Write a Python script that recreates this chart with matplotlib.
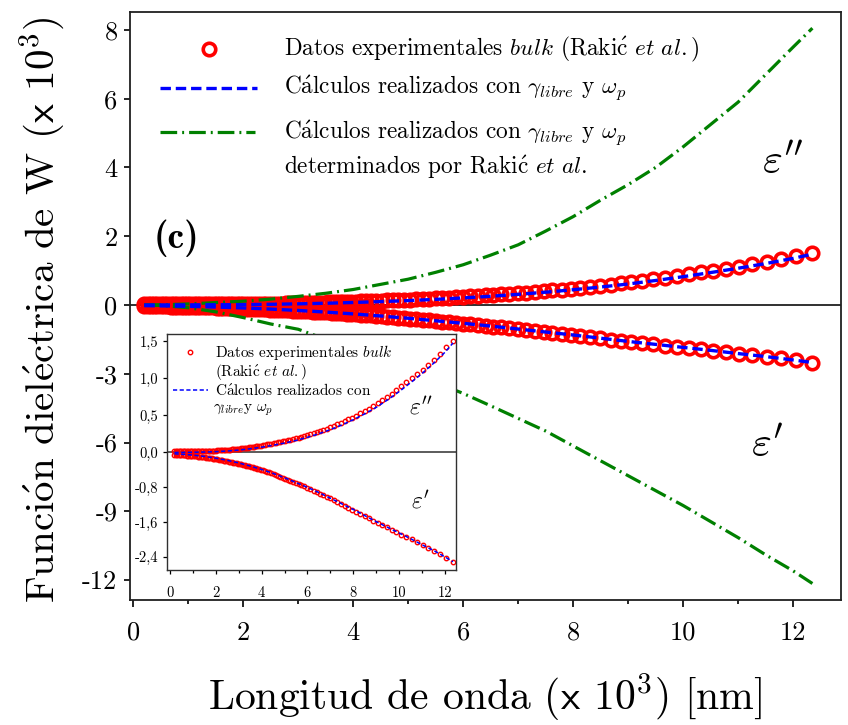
import numpy as np
import matplotlib
matplotlib.use("Agg")
import matplotlib.pyplot as plt
from matplotlib.lines import Line2D
from matplotlib.ticker import FixedLocator, FixedFormatter, NullLocator

plt.rcParams.update({
    "font.family": "cmr10",
    "mathtext.fontset": "cm",
    "axes.unicode_minus": False,
    "axes.formatter.use_mathtext": True,
    "lines.scale_dashes": False,
})

# ---------------------------------------------------------------------------
# Experimental bulk data (wavelength in 10^3 nm, epsilon in 10^3)
# ---------------------------------------------------------------------------
exp_wl = [
    0.20, 0.26, 0.32, 0.38, 0.44, 0.50, 0.56, 0.62, 0.68, 0.74, 0.80, 0.86,
    0.92, 0.98, 1.04, 1.10, 1.16, 1.22, 1.28, 1.34, 1.40, 1.46, 1.52, 1.58,
    1.64, 1.70, 1.76, 1.82, 1.88, 1.94, 2.00,
    2.07, 2.14, 2.21, 2.28, 2.35, 2.42, 2.49, 2.56, 2.63, 2.70, 2.77, 2.84,
    2.91, 2.98, 3.05, 3.12, 3.19, 3.26, 3.33, 3.40, 3.47, 3.54, 3.61, 3.68,
    3.75, 3.82, 3.89, 3.96,
    4.05, 4.14, 4.23, 4.32, 4.42, 4.52, 4.62, 4.72, 4.82, 4.93, 5.04, 5.15,
    5.26, 5.38, 5.50, 5.62, 5.74, 5.87, 6.00, 6.13, 6.27, 6.41, 6.55, 6.69,
    6.84, 6.99, 7.14, 7.30, 7.46, 7.62, 7.79, 7.96, 8.13, 8.31, 8.49, 8.68,
    8.87, 9.06, 9.26, 9.46, 9.67, 9.88, 10.10, 10.32, 10.55, 10.78, 11.02,
    11.26, 11.52, 11.78, 12.06, 12.35,
]
exp_eps2 = [
    0.020, 0.020, 0.020, 0.020, 0.020, 0.020, 0.020, 0.020, 0.020, 0.020,
    0.020, 0.020, 0.020, 0.020, 0.020, 0.021, 0.021, 0.021, 0.022, 0.022,
    0.022, 0.023, 0.023, 0.023, 0.024, 0.024, 0.024, 0.025, 0.025, 0.025,
    0.026,
    0.027, 0.028, 0.029, 0.030, 0.032, 0.034, 0.036, 0.038, 0.040, 0.042,
    0.044, 0.046, 0.048, 0.050, 0.052, 0.055, 0.058, 0.060, 0.063, 0.066,
    0.069, 0.072, 0.075, 0.079, 0.082, 0.086, 0.089, 0.093,
    0.098, 0.103, 0.109, 0.114, 0.120, 0.126, 0.132, 0.138, 0.144, 0.151,
    0.158, 0.166, 0.173, 0.182, 0.190, 0.201, 0.212, 0.223, 0.235, 0.248,
    0.262, 0.276, 0.290, 0.306, 0.322, 0.339, 0.358, 0.379, 0.400, 0.422,
    0.446, 0.469, 0.497, 0.528, 0.558, 0.592, 0.627, 0.663, 0.707, 0.751,
    0.797, 0.844, 0.894, 0.947, 1.002, 1.057, 1.116, 1.183, 1.256, 1.334,
    1.419, 1.510,
]
exp_eps1 = [
    -0.050, -0.052, -0.054, -0.056, -0.058, -0.060, -0.062, -0.065, -0.067,
    -0.070, -0.072, -0.074, -0.077, -0.079, -0.082, -0.086, -0.090, -0.093,
    -0.097, -0.100, -0.104, -0.108, -0.112, -0.116, -0.121, -0.126, -0.131,
    -0.136, -0.140, -0.145, -0.150,
    -0.157, -0.164, -0.171, -0.178, -0.185, -0.192, -0.199, -0.207, -0.216,
    -0.224, -0.232, -0.241, -0.249, -0.258, -0.266, -0.274, -0.283, -0.291,
    -0.300, -0.308, -0.316, -0.326, -0.338, -0.349, -0.360, -0.371, -0.382,
    -0.394,
    -0.409, -0.425, -0.441, -0.458, -0.476, -0.494, -0.514, -0.534, -0.554,
    -0.576, -0.599, -0.623, -0.647, -0.674, -0.700, -0.726, -0.753, -0.781,
    -0.810, -0.841, -0.875, -0.908, -0.943, -0.979, -1.018, -1.057, -1.096,
    -1.138, -1.180, -1.221, -1.265, -1.310, -1.356, -1.407, -1.457, -1.510,
    -1.564, -1.616, -1.668, -1.720, -1.774, -1.829, -1.886, -1.937, -1.994,
    -2.058, -2.125, -2.188, -2.256, -2.328, -2.418, -2.520,
]

# ---------------------------------------------------------------------------
# Calculated curves
# ---------------------------------------------------------------------------
model_wl = [0.2, 0.5, 1.0, 1.5, 2.0, 2.5, 3.0, 3.5, 4.0, 4.5, 5.0, 5.5, 6.0,
            6.5, 7.0, 7.5, 8.0, 8.5, 9.0, 9.5, 10.0, 10.5, 11.0, 11.5, 12.0,
            12.35]
# gamma_libre and omega_p fitted here
fit_eps2 = [0.000, 0.001, 0.003, 0.006, 0.011, 0.020, 0.033, 0.050, 0.072,
            0.098, 0.128, 0.163, 0.205, 0.254, 0.309, 0.372, 0.443, 0.522,
            0.610, 0.712, 0.823, 0.943, 1.068, 1.205, 1.355, 1.480]
fit_eps1 = [-0.030, -0.040, -0.060, -0.090, -0.130, -0.180, -0.240, -0.310,
            -0.390, -0.480, -0.580, -0.690, -0.800, -0.920, -1.050, -1.180,
            -1.310, -1.450, -1.590, -1.720, -1.850, -1.980, -2.120, -2.250,
            -2.400, -2.510]
# gamma_libre and omega_p taken from Rakic et al.
rakic_eps2 = [0.000, 0.005, 0.030, 0.070, 0.110, 0.170, 0.250, 0.340, 0.450,
              0.600, 0.750, 0.950, 1.170, 1.450, 1.750, 2.150, 2.570, 3.050,
              3.500, 4.000, 4.600, 5.250, 5.900, 6.700, 7.500, 8.050]
rakic_eps1 = [0.000, -0.020, -0.120, -0.300, -0.550, -0.830, -1.060, -1.500,
              -1.970, -2.440, -2.910, -3.380, -3.860, -4.400, -4.950, -5.500,
              -6.150, -6.800, -7.450, -8.100, -8.750, -9.450, -10.150,
              -10.900, -11.600, -12.150]

# Axis ticks
main_xticks = [0, 2, 4, 6, 8, 10, 12]
main_xminor = [1, 3, 5, 7, 9, 11]
main_yticks = [8, 6, 4, 2, 0, -3, -6, -9, -12]
main_ylabels = ["8", "6", "4", "2", "0", "-3", "-6", "-9", "-12"]
inset_xticks = [0, 2, 4, 6, 8, 10, 12]
inset_xminor = [1, 3, 5, 7, 9, 11]
inset_yticks = [1.5, 1.0, 0.5, 0.0, -0.8, -1.6, -2.4]
inset_ylabels = ["1,5", "1,0", "0,5", "0,0", "-0,8", "-1,6", "-2,4"]

RED = "#ff0000"
BLUE = "#0000ff"
GREEN = "#008000"
GREEN_DASH = [12, 3.6, 1.4, 3.6]
BLUE_DASH = [7.5, 3.5]

W, H = 848, 725
fig = plt.figure(figsize=(W / 100, H / 100), dpi=100)
fig.patch.set_facecolor("white")


def fig_rect(left, top, right, bottom):
    return [left / W, 1 - bottom / H, (right - left) / W, (bottom - top) / H]


def fx(x):
    return x / W


def fy(y):
    return 1 - y / H


def split_scale(k):
    """Linear scale with the negative half compressed by factor k."""
    def fwd(y):
        y = np.asarray(y, dtype=float)
        return np.where(y >= 0, y, y * k)

    def inv(t):
        t = np.asarray(t, dtype=float)
        return np.where(t >= 0, t, t / k)
    return fwd, inv


# ---------------------------------------------------------------------------
# Main axes
# ---------------------------------------------------------------------------
ax = fig.add_axes(fig_rect(130, 12, 841, 600))
ax.set_yscale("function", functions=split_scale(2 / 3))

ax.axhline(0, color="#202020", lw=1.3, zorder=1)
for eps in (exp_eps2, exp_eps1):
    ax.plot(exp_wl, eps, ls="none", marker="o", ms=9.0, mew=2.6,
            mec=RED, mfc="none", zorder=2)
for eps in (rakic_eps2, rakic_eps1):
    ax.plot(model_wl, eps, color=GREEN, lw=2.3, dashes=GREEN_DASH, zorder=3)
for eps in (fit_eps2, fit_eps1):
    ax.plot(model_wl, eps, color=BLUE, lw=2.4, dashes=BLUE_DASH, zorder=4)

ax.set_xlim(-0.06, 12.87)
ax.set_ylim(-12.87, 8.52)
ax.xaxis.set_major_locator(FixedLocator(main_xticks))
ax.xaxis.set_major_formatter(FixedFormatter([str(t) for t in main_xticks]))
ax.xaxis.set_minor_locator(FixedLocator(main_xminor))
ax.yaxis.set_major_locator(FixedLocator(main_yticks))
ax.yaxis.set_major_formatter(FixedFormatter(main_ylabels))
ax.yaxis.set_minor_locator(NullLocator())
ax.tick_params(axis="x", which="major", direction="out", length=5, width=1.2,
               labelsize=19, pad=10)
ax.tick_params(axis="x", which="minor", direction="out", length=3, width=1.2)
ax.tick_params(axis="y", which="major", direction="out", length=4, width=1.2,
               labelsize=19, pad=5)
for sp in ax.spines.values():
    sp.set_linewidth(1.3)
    sp.set_color("#202020")

fig.text(fx(485), fy(697),
         r"Longitud de onda ($\mathsf{x}$ 10$^3$) [nm]",
         ha="center", va="center", fontsize=30)
fig.text(fx(42), fy(310),
         r"Funci$\mathrm{\acute{o}}$n diel$\mathrm{\acute{e}}$ctrica de W"
         r" ($\mathsf{x}$ 10$^3$)",
         ha="center", va="center", rotation=90, fontsize=29.5)

fig.text(fx(176), fy(238), "(c)", family="cmb10", fontsize=27,
         ha="center", va="center")
fig.text(fx(782), fy(163), r"$\varepsilon''$", fontsize=31,
         ha="center", va="center")
fig.text(fx(767), fy(446), r"$\varepsilon'$", fontsize=31,
         ha="center", va="center")

# Main legend
fig.add_artist(Line2D([fx(208.5)], [fy(49)], ls="none", marker="o", ms=9.0,
                      mew=2.6, mec=RED, mfc="none"))
fig.add_artist(Line2D([fx(160), fx(257)], [fy(87.5), fy(87.5)], color=BLUE,
                      lw=2.4, dashes=BLUE_DASH))
fig.add_artist(Line2D([fx(160), fx(255)], [fy(131.5), fy(131.5)],
                      color=GREEN, lw=2.3, dashes=GREEN_DASH))
legend_lines = [
    (49, r"Datos experimentales $\mathit{bulk}$ (Raki$\mathrm{\acute{c}}$"
         r" $\mathit{et\ al.}$)"),
    (88, r"C$\mathrm{\acute{a}}$lculos realizados con $\gamma_{libre}$ y"
         r" $\omega_p$"),
    (133, r"C$\mathrm{\acute{a}}$lculos realizados con $\gamma_{libre}$ y"
          r" $\omega_p$"),
    (167, r"determinados por Raki$\mathrm{\acute{c}}$ $\mathit{et\ al}$."),
]
for y, s in legend_lines:
    fig.text(fx(284), fy(y), s, fontsize=16.8, ha="left", va="center")

# ---------------------------------------------------------------------------
# Inset
# ---------------------------------------------------------------------------
axi = fig.add_axes(fig_rect(166.7, 334, 456, 570), zorder=5)
axi.set_facecolor("white")
axi.set_yscale("function", functions=split_scale(0.588))
axi.axhline(0, color="#404040", lw=1.2, zorder=1)
for eps in (exp_eps2, exp_eps1):
    axi.plot(exp_wl, eps, ls="none", marker="o", ms=3.2, mew=1.0,
             mec=RED, mfc="none", zorder=2)
for eps in (fit_eps2, fit_eps1):
    axi.plot(model_wl, eps, color=BLUE, lw=1.1, dashes=[3.0, 1.8], zorder=3)

axi.set_xlim(-0.14, 12.48)
axi.set_ylim(-2.70, 1.601)
axi.xaxis.set_major_locator(FixedLocator(inset_xticks))
axi.xaxis.set_major_formatter(FixedFormatter([str(t) for t in inset_xticks]))
axi.xaxis.set_minor_locator(FixedLocator(inset_xminor))
axi.yaxis.set_major_locator(FixedLocator(inset_yticks))
axi.yaxis.set_major_formatter(FixedFormatter(inset_ylabels))
axi.yaxis.set_minor_locator(NullLocator())
axi.tick_params(axis="x", which="major", direction="out", length=3, width=0.9,
                labelsize=10.5, pad=9)
axi.tick_params(axis="x", which="minor", direction="out", length=2, width=0.9)
axi.tick_params(axis="y", which="major", direction="out", length=3, width=0.9,
                labelsize=10.5, pad=3)
for sp in axi.spines.values():
    sp.set_linewidth(1.0)
    sp.set_color("#303030")

tf = fig.transFigure
axi.plot([fx(190)], [fy(352.3)], ls="none", marker="o", ms=3.2, mew=1.0,
         mec=RED, mfc="none", transform=tf, clip_on=False)
axi.plot([fx(173), fx(208)], [fy(390), fy(390)], color=BLUE, lw=1.1,
         dashes=[3.0, 1.8], transform=tf, clip_on=False)
inset_legend = [
    (215, 352.3, r"Datos experimentales $\mathit{bulk}$"),
    (215, 371.7, r"(Raki$\mathrm{\acute{c}}$ $\mathit{et\ al.}$)"),
    (215, 390, r"C$\mathrm{\acute{a}}$lculos realizados con"),
    (213, 410, r"$\gamma_{libre}$y $\omega_p$"),
]
for x, y, s in inset_legend:
    axi.text(fx(x), fy(y), s, transform=tf, fontsize=11, ha="left",
             va="center")
axi.text(fx(421), fy(408), r"$\varepsilon''$", transform=tf, fontsize=17,
         ha="center", va="center")
axi.text(fx(420), fy(502), r"$\varepsilon'$", transform=tf, fontsize=17,
         ha="center", va="center")

fig.savefig("out.png", dpi=100, facecolor="white")
